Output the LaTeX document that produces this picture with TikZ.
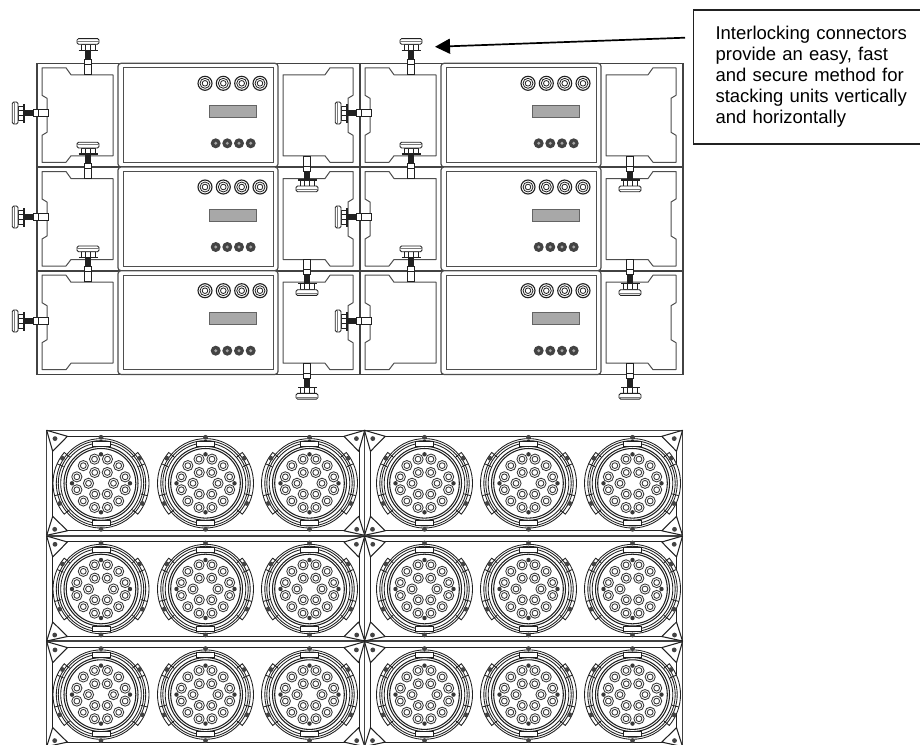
\documentclass[tikz,border=0pt]{standalone}
\usepackage{fontspec}
\setmainfont{Liberation Sans}
\usetikzlibrary{arrows.meta}
\definecolor{ink}{gray}{0.13}
\definecolor{lcd}{gray}{0.66}
\tikzset{
  x=1pt,y=-1pt,
  fine/.style={draw=ink,line width=0.85pt},
  frame/.style={draw=ink!85,line width=1.6pt},
  bay/.style={draw=ink!80,line width=1pt},
  knobscrew/.pic={
    \draw[draw=ink!85,line width=1.6pt] (-15,0)--(15,0);
    \draw[fine,fill=white] (-3.7,-4) rectangle (3.7,11);
    \draw[fine] (-3.7,1)--(3.7,1);
    \fill[ink] (-3.4,-13) rectangle (3.4,-3.5);
    \draw[fine,fill=white] (-7,-19) rectangle (7,-13);
    \draw[fine] (-2.5,-19)--(-2.5,-13) (2.5,-19)--(2.5,-13);
    \draw[draw=ink,line width=1.3pt] (-9.5,-13)--(9.5,-13);
    \draw[fine,fill=white,rounded corners=1.5pt] (-11,-24.7) rectangle (11,-19);
    \draw[draw=ink!60,line width=0.5pt] (-11,-22.5)--(11,-22.5);
  },
  panelunit/.pic={
    \foreach \ry in {0,103.7,207.4}{
      \begin{scope}[yshift=-\ry pt]
        \draw[frame,fill=white] (0,0) rectangle (323,103.7);
        \draw[bay,fill=white,rounded corners=3pt,line width=1.2pt] (81,0) rectangle (241,103.7);
        \draw[bay] (86,4.5) rectangle (236,99);
        \draw[bay,line join=round] (5,4.5)--(29,4.5)--(34,11.5)--(76,11.5)--(76,92.5)--(34,92.5)--(29,99)--(5,99)--(5,72)--(10,69)--(10,35)--(5,32)--cycle;
        \draw[bay,line join=round] (316,4.5)--(293,4.5)--(288,11.5)--(246,11.5)--(246,92.5)--(288,92.5)--(293,99)--(316,99)--(316,72)--(311,69)--(311,35)--(316,32)--cycle;
        \foreach \kx in {168,186.3,204.7,223}{
          \draw[fine,fill=white,line width=1.1pt] (\kx,20) circle[radius=7];
          \draw[fine,line width=0.8pt] (\kx,20) circle[radius=5];
          \draw[fine,line width=0.8pt] (\kx,20) circle[radius=2.8];
        }
        \draw[draw=ink!70,fill=lcd,line width=0.8pt] (172,42) rectangle (219,54);
        \foreach \kx in {178.7,190.3,202,213.7}{
          \fill[ink!85] (\kx,80) circle[radius=5];
          \fill[white!60!ink] (\kx,80) circle[radius=1.6];
        }
      \end{scope}
    }
  },
  lamp/.pic={
    \foreach \sa/\ea in {-40/40,140/220}{
      \draw[fine,fill=white] (\sa:41) -- (\sa:48) arc[start angle=\sa,end angle=\ea,radius=48] -- (\ea:41);
      \draw[fine] (\sa:44.7) arc[start angle=\sa,end angle=\ea,radius=44.7];
    }
    \foreach \ang in {15,-24,165,204}{ \draw[fine] (\ang:41)--(\ang:48); }
    \foreach \sa/\ea in {40/140,220/320}{
      \draw[fine] (\sa:44.7) arc[start angle=\sa,end angle=\ea,radius=44.7];
    }
    \draw[fine] (0,0) circle[radius=42.7];
    \draw[fine] (0,0) circle[radius=40.3];
    \draw[draw=ink,line width=1.05pt] (0,0) circle[radius=37];
    \draw[draw=ink,line width=1.05pt] (0,0) circle[radius=34.8];
    \foreach \ang in {90,270}{
      \draw[fine,fill=white,rotate=\ang] (37,-9) rectangle (42,9);
    }
    \foreach \ang in {90,270,26,154,-33,213}{\fill[ink!85] (\ang:46) circle[radius=2.4];}
    \foreach \ang in {0,90,180,270}{\fill[ink!90] (\ang:29) circle[radius=2.2];}
    \foreach \ang in {15,45,75,105,135,165,195,225,255,285,315,345}{
      \draw[draw=ink!90,line width=0.85pt] (\ang:25) circle[radius=5.1];
      \draw[draw=ink!90,line width=0.85pt] (\ang:25) circle[radius=2.9];
    }
    \foreach \ang in {0,60,120,180,240,300}{
      \draw[draw=ink!90,line width=0.85pt] (\ang:12.5) circle[radius=5.1];
      \draw[draw=ink!90,line width=0.85pt] (\ang:12.5) circle[radius=2.9];
    }
  },
  lampunit/.pic={
    \draw[frame,line width=1.2pt] (0,0) rectangle (318,105);
    \draw[fine] (5.7,5.7)--(312.3,5.7) (5.7,100.5)--(312.3,100.5);
    \draw[fine] (5.7,5.7)--(5.7,100.5) (312.3,5.7)--(312.3,100.5);
    \foreach \sx/\px in {1/0,-1/318}{
      \begin{scope}[xshift=\px pt]
        \draw[fine,line width=1.05pt,fill=white,line join=round] (0,0)--(\sx*20.7,6)--(\sx*6,21)--cycle;
        \fill[ink!85] (\sx*8.3,8.3) circle[radius=2.4];
        \draw[fine,line width=1.05pt,fill=white,line join=round] (0,105)--(\sx*20.7,100.5)--(\sx*6,86)--cycle;
        \fill[ink!85] (\sx*8,99) circle[radius=2.4];
      \end{scope}
    }
  },
}
\begin{document}
\begin{tikzpicture}
\useasboundingbox (0,0) rectangle (920,744);
\fill[white] (0,0) rectangle (920,744);
\clip (0,0) rectangle (920,744);

% upper array: two stacks of front panels
\foreach \ux in {37,360}{ \pic at (\ux,63.3) {panelunit}; }
\foreach \ux in {88,411}{
  \foreach \uy in {63.3,167,270.7}{ \pic at (\ux,\uy) {knobscrew}; }
}
\foreach \ux in {307,630}{
  \foreach \uy in {167,270.7,374.4}{ \pic[rotate=180] at (\ux,\uy) {knobscrew}; }
}
\foreach \ux in {37,360}{
  \foreach \uy in {113,217,321}{ \pic[rotate=90] at (\ux,\uy) {knobscrew}; }
}

% lower array: two stacks of lamp faces
\foreach \ux in {46.7,364.5}{
  \foreach \uy in {430.3,536,641.6}{
    \pic at (\ux,\uy) {lampunit};
  }
}
\foreach \lx in {101,205.5,309.5,424.5,528.5,632.5}{
  \foreach \ly in {483.3,589,694.6}{
    \pic at (\lx,\ly) {lamp};
  }
}

% callout
\node[draw=ink,line width=1.7pt,anchor=north west,inner xsep=22pt,inner ysep=0pt,
      minimum height=134pt,text width=220pt,align=left,
      font=\fontsize{18.5pt}{21pt}\selectfont]
      (callout) at (692.7,9.3)
      {Interlocking connectors\\provide an easy, fast\\and secure method for\\stacking units vertically\\and horizontally};
\coordinate (arrowstart) at (685,37.7);
\coordinate (arrowtip) at (435,46.8);
\draw[draw=black,line width=1.7pt,-{Triangle[length=15pt,width=15pt]}] (arrowstart) -- (arrowtip);
\end{tikzpicture}
\end{document}
